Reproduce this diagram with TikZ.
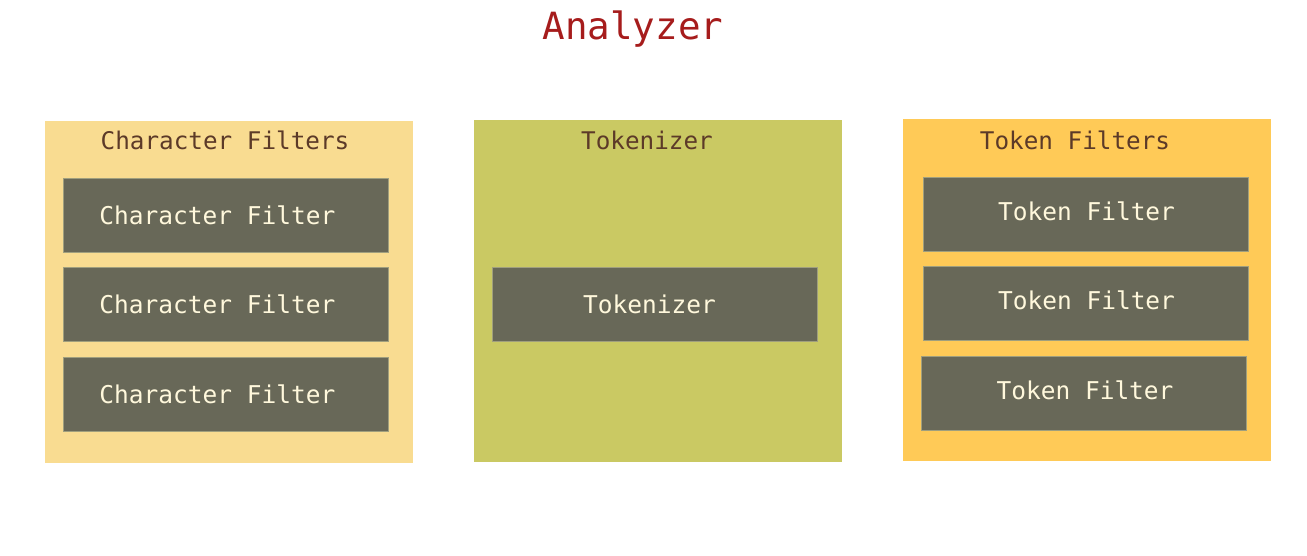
\documentclass[tikz,border=0pt]{standalone}
\usepackage{fontspec}
\setmonofont{DejaVu Sans Mono}
\usepackage{tikz}
\usetikzlibrary{positioning}
\definecolor{charbg}{HTML}{F9DC91}
\definecolor{tokbg}{HTML}{CAC963}
\definecolor{tfbg}{HTML}{FFCA57}
\definecolor{itembg}{HTML}{686858}
\definecolor{itemline}{HTML}{A09F7E}
\definecolor{itemtext}{HTML}{FFF8DC}
\definecolor{headtext}{HTML}{5C3A28}
\definecolor{titletext}{HTML}{A61C1C}
\tikzset{
  panel/.style={minimum width=368pt, minimum height=342pt, inner sep=0pt},
  item/.style={fill=itembg, draw=itemline, line width=0.6pt, minimum width=325pt, minimum height=74pt, inner sep=0pt},
  itemlabel/.style={text=itemtext, font=\ttfamily\fontsize{24.5}{28}\selectfont},
  headlabel/.style={text=headtext, font=\ttfamily\fontsize{24.3}{28}\selectfont},
}
\begin{document}
\begin{tikzpicture}[x=1pt,y=1pt]
\useasboundingbox[fill=white] (0,0) rectangle (1307,556);
% title
\node[text=titletext, font=\ttfamily\fontsize{37.5}{42}\selectfont] (title) at (633,527) {Analyzer};
% panels
\node[panel, fill=charbg] (charpanel) at (229,264) {};
\node[panel, fill=tokbg] (tokpanel) at (658,265) {};
\node[panel, fill=tfbg] (tfpanel) at (1087,266) {};
\node[headlabel] (charhead) at (225,416) {Character Filters};
\node[headlabel] (tokhead) at (647,416) {Tokenizer};
\node[headlabel] (tfhead) at (1075,416) {Token Filters};
% character filters
\node[item] (char1) at (225.5,341) {};
\node[item] (char2) at (225.5,251.5) {};
\node[item] (char3) at (225.5,161.5) {};
\foreach \n in {1,2,3}
  \node[itemlabel] at ([xshift=-8pt]char\n.center) {Character Filter};
% tokenizer
\node[item] (tok) at (654.5,252) {};
\node[itemlabel] at ([xshift=-5pt]tok.center) {Tokenizer};
% token filters
\node[item] (tf1) at (1085.5,342) {};
\node[item] (tf2) at (1085.5,252.5) {};
\node[item] (tf3) at (1084,163) {};
\foreach \n in {1,2,3}
  \node[itemlabel] at ([xshift=1pt,yshift=3pt]tf\n.center) {Token Filter};
\end{tikzpicture}
\end{document}
